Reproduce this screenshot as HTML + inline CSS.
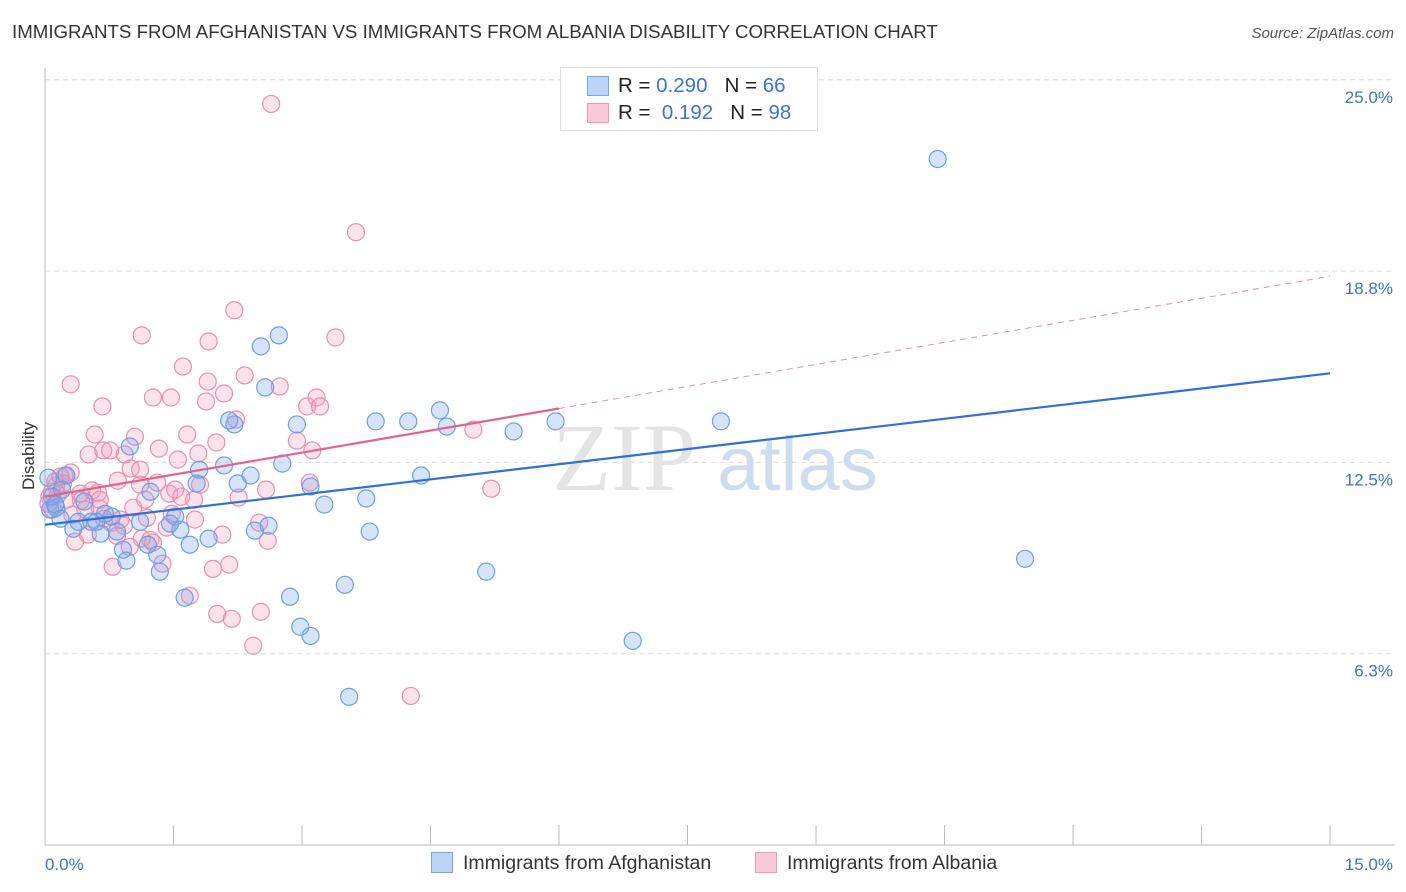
<!DOCTYPE html>
<html><head><meta charset="utf-8"><style>
body{margin:0;background:#fff;font-family:"Liberation Sans",sans-serif;}
#wrap{position:relative;width:1406px;height:892px;overflow:hidden;}
.t{position:absolute;white-space:nowrap;}
</style></head><body>
<div id="wrap">
<div class="t" style="left:12px;top:21px;font-size:18.7px;color:#333;">IMMIGRANTS FROM AFGHANISTAN VS IMMIGRANTS FROM ALBANIA DISABILITY CORRELATION CHART</div>
<div class="t" style="right:12px;top:25px;font-size:15px;color:#555;font-style:italic;">Source: ZipAtlas.com</div>
<svg id="plot" width="1406" height="892" style="position:absolute;left:0;top:0;"></svg>
</div>
<script>
const yTicks=[25,18.75,12.5,6.25];
const yTickLabels=["25.0%","18.8%","12.5%","6.3%"];
const xTickLabels=["0.0%","15.0%"];
const afgX=[10.42,11.44,6.86,7.89,5.96,5.47,5.15,4.69,4.61,4.39,4.24,3.86,3.79,3.75,3.55,3.50,3.26,3.10,3.10,2.98,2.94,2.86,2.77,2.73,2.61,2.52,2.57,2.45,2.40,2.25,2.21,2.15,2.09,1.91,1.77,1.80,1.69,1.63,1.58,1.52,1.46,1.34,1.31,1.23,1.20,1.11,0.99,0.95,0.91,0.84,0.78,0.70,0.65,0.60,0.54,0.46,0.39,0.33,0.25,0.18,0.13,0.06,0.04,0.08,0.20,0.12];
const afgY=[22.41,9.35,6.67,13.84,13.84,13.51,8.93,13.67,14.20,12.07,13.84,13.84,10.24,11.32,4.84,8.50,11.12,11.71,6.83,7.13,13.74,8.11,12.46,16.65,10.43,16.29,14.95,10.27,12.07,11.81,13.74,13.87,12.40,10.01,11.81,12.26,9.81,8.08,10.30,10.73,10.50,8.93,9.48,11.54,9.81,10.56,13.02,9.29,9.65,10.24,10.73,10.82,10.17,10.56,10.56,11.22,10.56,10.33,12.07,10.66,11.02,10.96,12.00,11.38,11.61,11.12];
const albX=[2.64,3.63,2.21,1.13,3.39,1.91,1.61,2.33,2.74,1.90,0.30,2.09,1.26,1.47,3.17,3.06,3.21,0.67,1.88,2.23,5.00,1.66,0.58,1.05,2.94,2.00,3.12,1.33,0.68,0.76,0.51,1.79,1.55,1.00,0.30,0.23,1.31,3.09,5.21,2.58,0.85,1.11,0.13,0.21,0.55,0.62,1.45,1.59,1.74,2.26,0.42,0.05,0.08,1.03,0.64,0.32,0.69,1.19,1.48,0.77,0.92,1.42,2.50,0.50,0.84,1.13,1.26,2.07,2.60,0.35,0.99,1.37,0.79,1.96,2.15,1.69,2.01,2.18,2.52,2.43,4.27,0.12,0.18,0.04,0.09,0.25,0.41,0.88,1.23,0.64,1.52,1.81,0.47,1.17,0.15,1.75,1.11,0.93];
const albY=[24.21,20.02,17.47,16.65,16.58,16.45,15.63,15.34,14.98,15.14,15.05,14.75,14.62,14.62,14.62,14.33,14.33,14.33,14.49,13.90,13.57,13.41,13.41,13.34,13.21,13.15,12.89,12.95,12.89,12.89,12.76,12.79,12.59,12.30,12.17,12.07,11.84,11.84,11.64,11.61,11.90,11.77,11.74,11.81,11.58,11.51,11.48,11.38,11.28,11.35,11.25,11.38,11.54,11.02,10.99,10.79,10.66,10.69,10.82,10.53,10.43,10.37,10.53,10.14,10.10,10.01,9.88,10.14,9.94,9.91,9.74,9.19,9.09,9.02,9.16,8.14,7.55,7.39,7.62,6.51,4.87,11.87,12.04,11.15,10.96,11.28,11.48,10.63,9.97,11.28,11.61,11.77,10.96,11.28,11.45,10.63,12.26,12.76];
const afgTrend=[10.46,15.41];
const albTrend=[11.38,18.58];
const albSolidEnd=6.0;

const NS="http://www.w3.org/2000/svg";
const svg=document.getElementById('plot');
const X=v=>45+v*85.67;
const Y=v=>845-v*30.61;
function mk(tag,attrs){const e=document.createElementNS(NS,tag);for(const k in attrs)e.setAttribute(k,attrs[k]);svg.appendChild(e);return e;}

yTicks.forEach((t,i)=>{
  const g=mk('line',{x1:45,x2:1395,y1:Y(t),y2:Y(t),stroke:'#ddd','stroke-dasharray':'5,4'});
  
  
  const tx=mk('text',{x:1393,y:Y(t)+23,'text-anchor':'end','font-size':17,fill:'#3b73d6','font-family':'Liberation Sans, sans-serif'});
  tx.textContent=yTickLabels[i];
  
  
});
const ax=mk('line',{x1:45,x2:1395,y1:845,y2:845,stroke:'#bbb'});


const ay=mk('line',{x1:45,x2:45,y1:68,y2:845,stroke:'#bbb'});


for(let i=0;i<=10;i++){
  const tk=mk('line',{x1:X(i*1.5),x2:X(i*1.5),y1:825,y2:845,stroke:'#bbb'});
  
  
}
[[0,'start',45],[15,'end',1393]].forEach((a,i)=>{
  const tx=mk('text',{x:a[2],y:870,'text-anchor':a[1],'font-size':17,fill:'#3b73d6','font-family':'Liberation Sans, sans-serif'});
  tx.textContent=xTickLabels[i];
  
  
});
const yt=mk('text',{x:34,y:456,'text-anchor':'middle','font-size':17,fill:'#333',transform:'rotate(-90 34 456)','font-family':'Liberation Sans, sans-serif'});
yt.textContent='Disability';


const wm=mk('text',{x:715,y:490,'text-anchor':'middle','font-size':96,'font-family':'Liberation Serif, serif',fill:'#e4e4e4'});
wm.innerHTML='ZIP<tspan fill="#cfdcf0" font-family="Liberation Sans, sans-serif" font-size="76"> atlas</tspan>';



function pts(xs,ys,fill,stroke,name){
  xs.forEach((x,i)=>{
    const c=mk('circle',{cx:X(x),cy:Y(ys[i]),r:8.5,fill:fill,stroke:stroke,'stroke-width':1.2});
    
    
  });
}
pts(albX,albY,'rgba(244,160,188,0.3)','#ea8fae','albania-point');
pts(afgX,afgY,'rgba(120,165,235,0.3)','#6e9fe3','afghanistan-point');

const bt=mk('line',{x1:X(0),y1:Y(afgTrend[0]),x2:X(15),y2:Y(afgTrend[1]),stroke:'#2f6fd6','stroke-width':2.2});


const pm=albTrend[0]+(albTrend[1]-albTrend[0])*albSolidEnd/15;
const pt=mk('line',{x1:X(0),y1:Y(albTrend[0]),x2:X(albSolidEnd),y2:Y(pm),stroke:'#e5628c','stroke-width':2.2});


const pd=mk('line',{x1:X(albSolidEnd),y1:Y(pm),x2:X(15),y2:Y(albTrend[1]),stroke:'#e88aa8','stroke-width':1,'stroke-dasharray':'6,5'});


</script>
<div class="t" style="left:560px;top:67px;width:256px;height:62px;border:1px solid #ddd;background:#fff;">
  <div style="position:absolute;left:26px;top:8px;width:20px;height:18px;background:#bcd4f6;border:1px solid #7aa6e6;"></div>
  <div style="position:absolute;left:26px;top:35px;width:20px;height:18px;background:#f9c9d8;border:1px solid #ee9ab5;"></div>
  <div style="position:absolute;left:57px;top:6px;font-size:20.5px;color:#222;">R = <span style="color:#3b73d6">0.290</span>&nbsp;&nbsp;&nbsp;N = <span style="color:#3b73d6">66</span></div>
  <div style="position:absolute;left:57px;top:33px;font-size:20.5px;color:#222;">R = &nbsp;<span style="color:#3b73d6">0.192</span>&nbsp;&nbsp;&nbsp;N = <span style="color:#3b73d6">98</span></div>
</div>
<div class="t" style="left:431px;top:852px;font-size:19.5px;color:#333;"><span style="display:inline-block;width:20px;height:19px;background:#bcd4f6;border:1px solid #7aa6e6;vertical-align:-4px;margin-right:10px;"></span>Immigrants from Afghanistan</div>
<div class="t" style="left:755px;top:852px;font-size:19.5px;color:#333;"><span style="display:inline-block;width:20px;height:19px;background:#f9c9d8;border:1px solid #ee9ab5;vertical-align:-4px;margin-right:10px;"></span>Immigrants from Albania</div>
</body></html>
